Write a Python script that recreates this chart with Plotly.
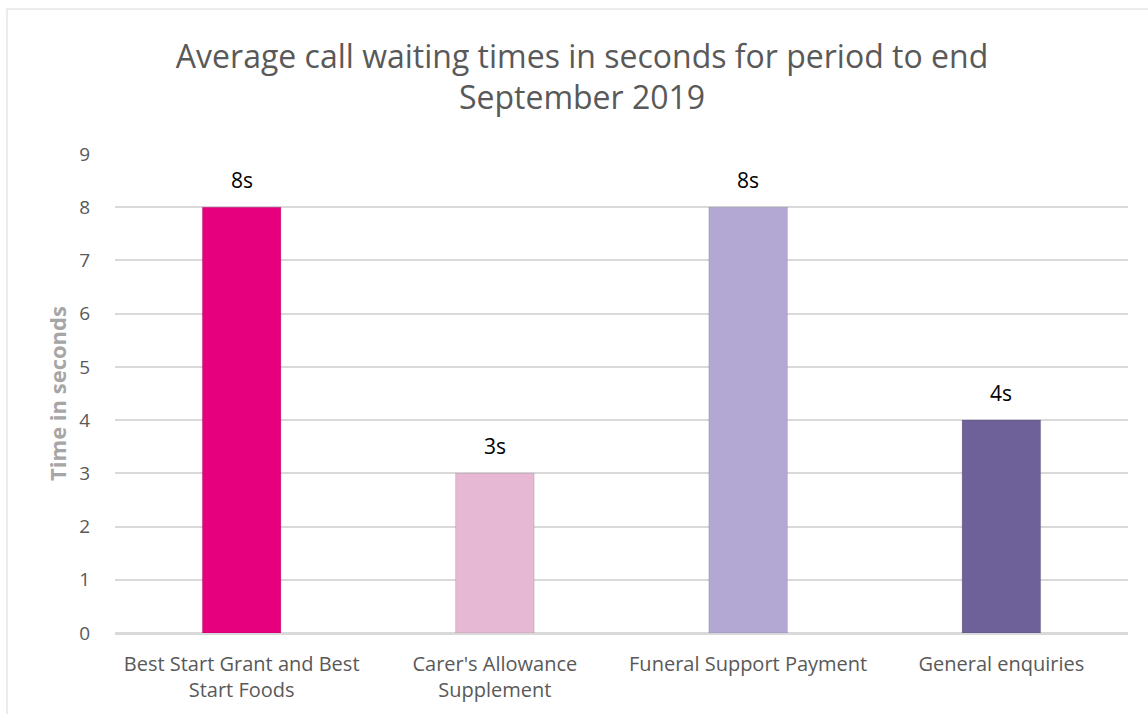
import plotly.graph_objects as go

categories = ["Best Start Grant and Best<br>Start Foods", "Carer's Allowance<br>Supplement",
              "Funeral Support Payment", "General enquiries"]
values = [8, 3, 8, 4]
value_labels = ["8s", "3s", "8s", "4s"]
colors = ["#E6007E", "#E6B8D3", "#B3A8D4", "#6E6199"]
y_ticks = [0, 1, 2, 3, 4, 5, 6, 7, 8, 9]

FONT = "Open Sans"

fig = go.Figure()
fig.add_trace(go.Bar(
    x=categories, y=values,
    marker=dict(color=colors, line=dict(color="rgba(0,0,0,0.12)", width=1)),
    width=0.31, hoverinfo="skip",
))

for c, v, t in zip(categories, values, value_labels):
    fig.add_annotation(x=c, y=v, text=t, showarrow=False, yanchor="bottom",
                       yshift=11, font=dict(family=FONT, size=21, color="#000000"))

fig.update_layout(
    width=1148, height=714,
    paper_bgcolor="white", plot_bgcolor="white",
    margin=dict(l=115, r=20, t=154, b=81),
    showlegend=False,
    title=dict(text="Average call waiting times in seconds for period to end<br>September 2019",
               x=0.507, xanchor="center", y=0.905, yanchor="middle",
               font=dict(family=FONT, size=32, color="#595959")),
    font=dict(family=FONT, color="#595959"),
)
fig.update_xaxes(
    showgrid=False, showline=True, linecolor="#d9d9d9", linewidth=1.5,
    ticks="outside", ticklen=12, tickcolor="rgba(0,0,0,0)",
    tickfont=dict(family=FONT, size=20, color="#595959"),
)
fig.update_yaxes(
    range=[0, 9], tickvals=y_ticks, showgrid=True, gridcolor="#d9d9d9", gridwidth=1.5,
    zeroline=True, zerolinecolor="#d9d9d9", zerolinewidth=1.5, showline=False,
    ticks="outside", ticklen=20, tickcolor="rgba(0,0,0,0)",
    tickfont=dict(family=FONT, size=19, color="#595959"),
    title=dict(text="<b>Time in seconds</b>", standoff=6,
               font=dict(family=FONT, size=22, color="#A6A6A6")),
)

# outer chart-area border
fig.add_shape(type="line", xref="paper", yref="paper", x0=(7 - 115) / 1013, x1=1.03,
              y0=(633 - 9) / 479, y1=(633 - 9) / 479, line=dict(color="#d9d9d9", width=1))
fig.add_shape(type="line", xref="paper", yref="paper", x0=(7 - 115) / 1013, x1=(7 - 115) / 1013,
              y0=(633 - 9) / 479, y1=-0.3, line=dict(color="#d9d9d9", width=1))

fig.write_html("out.html", config={"displayModeBar": False},
               post_script="document.body.style.margin='0';")
